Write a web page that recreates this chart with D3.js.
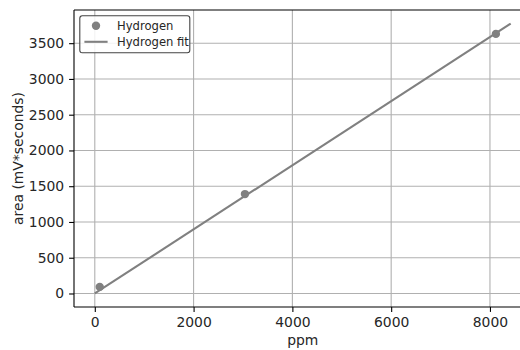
<!DOCTYPE html>
<html>
<head>
<meta charset="utf-8">
<script src="https://cdn.jsdelivr.net/npm/d3@7"></script>
<style>
  html, body { margin: 0; padding: 0; background: #fff; }
  svg { display: block; overflow: hidden; }
  text { font-family: "DejaVu Sans", sans-serif; fill: #262626; }
</style>
</head>
<body>
<svg id="chart" width="520" height="350"></svg>
<script>
// Calibration measurements for hydrogen
const ppm = [100, 3040, 8120];
const area = [92, 1390, 3630];

// Fitted calibration line (through the origin)
const fitPpm = [0, 8420];
const fitArea = [0, 3775];

// Axis ticks
const xTicks = [0, 2000, 4000, 6000, 8000];
const yTicks = [0, 500, 1000, 1500, 2000, 2500, 3000, 3500];

const legendLabels = ["Hydrogen", "Hydrogen fit"];

const svg = d3.select("#chart");
const plot = { left: 74, right: 531.5, top: 10, bottom: 307 };
const grey = "#808080";

const x = d3.scaleLinear().domain([-421, 8841]).range([plot.left, plot.right]);
const y = d3.scaleLinear().domain([-189, 3964]).range([plot.bottom, plot.top]);

// Grid
const grid = svg.append("g");
grid.selectAll("line.vx").data(xTicks).join("line")
  .attr("x1", d => x(d)).attr("x2", d => x(d))
  .attr("y1", plot.top).attr("y2", plot.bottom)
  .attr("stroke", "#b0b0b0").attr("stroke-width", 1.1);
grid.selectAll("line.hy").data(yTicks).join("line")
  .attr("x1", plot.left).attr("x2", plot.right)
  .attr("y1", d => y(d)).attr("y2", d => y(d))
  .attr("stroke", "#b0b0b0").attr("stroke-width", 1.1);

// Fit line
svg.append("path")
  .datum(fitPpm.map((p, i) => [p, fitArea[i]]))
  .attr("fill", "none").attr("stroke", grey).attr("stroke-width", 2.1)
  .attr("d", d3.line().x(d => x(d[0])).y(d => y(d[1])));

// Measured points
svg.append("g").selectAll("circle").data(ppm.map((p, i) => [p, area[i]])).join("circle")
  .attr("cx", d => x(d[0])).attr("cy", d => y(d[1])).attr("r", 4.2)
  .attr("fill", grey);

// Axes
const xAxis = d3.axisBottom(x).tickValues(xTicks).tickSize(4.9).tickPadding(4.9).tickFormat(d3.format("d"));
const yAxis = d3.axisLeft(y).tickValues(yTicks).tickSize(4.9).tickPadding(4.9).tickFormat(d3.format("d"));

const gx = svg.append("g").attr("transform", `translate(0,${plot.bottom})`).call(xAxis);
const gy = svg.append("g").attr("transform", `translate(${plot.left},0)`).call(yAxis);
[gx, gy].forEach(g => {
  g.select(".domain").remove();
  g.selectAll(".tick line").attr("stroke", "#000").attr("stroke-width", 1.1);
  g.selectAll(".tick text").attr("font-size", "13.9px").attr("font-family", "DejaVu Sans").attr("fill", "#262626");
});

// Spines: top, left, bottom
const spines = svg.append("g").attr("stroke", "#000").attr("stroke-width", 1.1).attr("fill", "none");
spines.append("line").attr("x1", plot.left).attr("x2", plot.right).attr("y1", plot.top).attr("y2", plot.top);
spines.append("line").attr("x1", plot.left).attr("x2", plot.right).attr("y1", plot.bottom).attr("y2", plot.bottom);
spines.append("line").attr("x1", plot.left).attr("x2", plot.left).attr("y1", plot.top).attr("y2", plot.bottom);

// Axis labels
svg.append("text").attr("x", (plot.left + plot.right) / 2).attr("y", 345)
  .attr("text-anchor", "middle").attr("font-size", "13.9px").text("ppm");
svg.append("text")
  .attr("transform", `translate(23,${(plot.top + plot.bottom) / 2}) rotate(-90)`)
  .attr("text-anchor", "middle").attr("font-size", "13.9px").text("area (mV*seconds)");

// Legend
const lg = svg.append("g").attr("transform", "translate(79.8,15.8)");
lg.append("rect").attr("width", 110).attr("height", 37).attr("rx", 2.5)
  .attr("fill", "#fff").attr("fill-opacity", 0.85)
  .attr("stroke", "#444").attr("stroke-width", 1.1);
lg.append("circle").attr("cx", 16.2).attr("cy", 10).attr("r", 4.2).attr("fill", grey);
lg.append("line").attr("x1", 4.6).attr("x2", 27.8).attr("y1", 26).attr("y2", 26)
  .attr("stroke", grey).attr("stroke-width", 2.1);
lg.selectAll("text.lab").data(legendLabels).join("text")
  .attr("x", 37.2).attr("y", (d, i) => 10 + 16 * i + 4.1)
  .attr("font-size", "11.6px").text(d => d);
</script>
</body>
</html>
